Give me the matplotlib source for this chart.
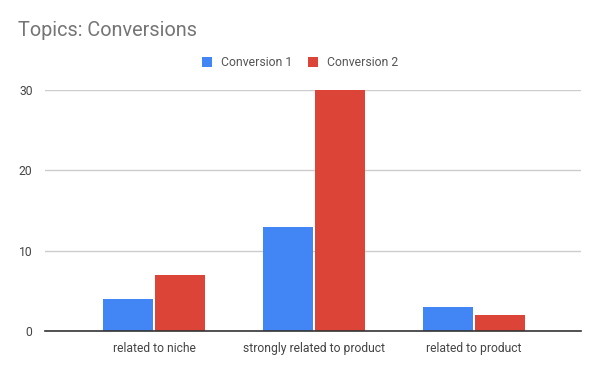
import matplotlib.pyplot as plt
import numpy as np

plt.rcParams["font.family"] = ["Roboto", "DejaVu Sans"]

categories = ["related to niche", "strongly related to product", "related to product"]
conv1 = [4, 13, 3]
conv2 = [7, 30, 2]
series_names = ["Conversion 1", "Conversion 2"]
colors = ["#4285f4", "#db4437"]

fig = plt.figure(figsize=(6.0, 3.71), dpi=100)
ax = fig.add_axes([45 / 600, 1 - 331 / 371, 536 / 600, 241 / 371])

x = np.arange(len(categories))
w = 0.3125
ax.bar(x - 0.1625, conv1, width=w, color=colors[0], label=series_names[0], zorder=3)
ax.bar(x + 0.1625, conv2, width=w, color=colors[1], label=series_names[1], zorder=3)

ax.set_xlim(-0.681, 2.669)
ax.set_ylim(0, 30)
ax.set_yticks([0, 10, 20, 30])
ax.set_xticks(x)
ax.set_xticklabels(categories)
ax.grid(axis="y", color="#cccccc", lw=1, zorder=0)
for s in ["top", "right", "left"]:
    ax.spines[s].set_visible(False)
ax.spines["bottom"].set_color("#333333")
ax.spines["bottom"].set_linewidth(1.2)
ax.spines["bottom"].set_zorder(4)
ax.tick_params(axis="both", length=0, labelsize=8.7, labelcolor="#444444")
ax.tick_params(axis="x", pad=8)
ax.tick_params(axis="y", pad=9)

fig.text(18 / 600, 1 - 31 / 371, "Topics: Conversions", fontsize=14.3,
         color="#757575", va="center", ha="left")

fig.legend(loc="center", bbox_to_anchor=(0.5, 1 - 63 / 371), ncol=2, frameon=False,
           fontsize=8.8, labelcolor="#555555", handlelength=0.85, handleheight=0.85,
           handletextpad=0.7, columnspacing=1.3)

fig.savefig("out.png", dpi=100)
